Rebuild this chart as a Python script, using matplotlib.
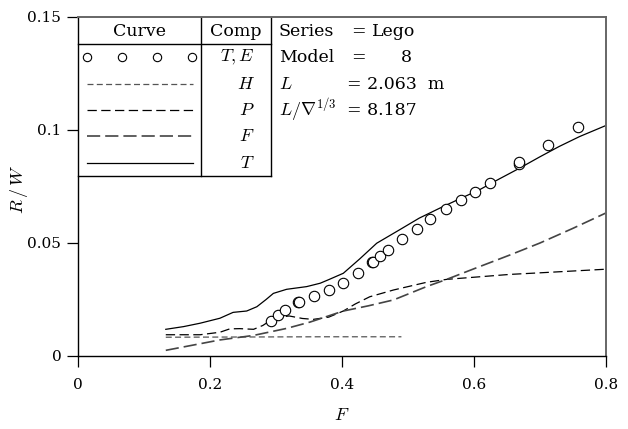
import matplotlib
matplotlib.use("Agg")
import matplotlib.pyplot as plt

plt.rcParams['font.family'] = ['DejaVu Serif']
plt.rcParams['mathtext.fontset'] = 'cm'
plt.rcParams['lines.scale_dashes'] = False

# ---------------- data ----------------
exp_F = [0.2923, 0.3026, 0.3129, 0.334, 0.335, 0.357, 0.381, 0.402, 0.4240,
         0.446, 0.447, 0.458, 0.470, 0.491, 0.513, 0.534, 0.557, 0.580,
         0.601, 0.624, 0.668, 0.668, 0.712, 0.757]
exp_RW = [0.0157, 0.0182, 0.0204, 0.0237, 0.0241, 0.0264, 0.0291, 0.0325, 0.0367,
          0.0414, 0.0418, 0.0444, 0.0469, 0.0518, 0.0564, 0.0605, 0.0650, 0.0691,
          0.0725, 0.0765, 0.0851, 0.0858, 0.0932, 0.1014]

T_F = [0.133, 0.160, 0.185, 0.215, 0.235, 0.2556, 0.271, 0.285, 0.296, 0.316,
       0.3465, 0.367, 0.380, 0.402, 0.427, 0.4526, 0.487, 0.517, 0.548, 0.578,
       0.608, 0.638, 0.669, 0.699, 0.729, 0.760, 0.800]
T_RW = [0.0118, 0.0130, 0.0145, 0.0167, 0.0193, 0.0199, 0.0218, 0.0250, 0.0277, 0.0295,
        0.0307, 0.0322, 0.0338, 0.0366, 0.0430, 0.0499, 0.0558, 0.0610, 0.0654, 0.0695,
        0.0735, 0.0783, 0.0831, 0.0880, 0.0927, 0.0971, 0.1020]

H_F = [0.133, 0.250, 0.370, 0.490]
H_RW = [0.0083, 0.0084, 0.0085, 0.0085]

P_F = [0.133, 0.185, 0.215, 0.230, 0.245, 0.266, 0.280, 0.291, 0.305, 0.320,
       0.340, 0.3565, 0.380, 0.402, 0.420, 0.442, 0.478, 0.528, 0.5586, 0.6545,
       0.700, 0.800]
P_RW = [0.0094, 0.0094, 0.0105, 0.0120, 0.0121, 0.0118, 0.0135, 0.0156, 0.0172, 0.0177,
        0.0166, 0.0162, 0.0172, 0.0199, 0.0230, 0.0262, 0.0292, 0.0326, 0.0339, 0.0361,
        0.0368, 0.0384]

Fr_F = [0.133, 0.215, 0.266, 0.316, 0.3515, 0.402, 0.440, 0.478, 0.528, 0.5586,
        0.600, 0.6545, 0.700, 0.750, 0.800]
Fr_RW = [0.0025, 0.0071, 0.0091, 0.0122, 0.0150, 0.0199, 0.0222, 0.0248, 0.0307, 0.0339,
         0.0386, 0.0447, 0.0500, 0.0565, 0.0633]

xticks = [0, 0.2, 0.4, 0.6, 0.8]
xticklabels = ['0', '0.2', '0.4', '0.6', '0.8']
yticks = [0, 0.05, 0.1, 0.15]
yticklabels = ['0', '0.05', '0.1', '0.15']

comp_labels = [r'$T,E$', r'$H$', r'$P$', r'$F$', r'$T$']
info_names = ['Series', 'Model', r'$L$', r'$L/\nabla^{1/3}$']

# ---------------- styles ----------------
sty_H = dict(color='#555555', lw=0.9, linestyle=(0, (4.3, 2.4)))
sty_P = dict(color='black', lw=0.9, linestyle=(0, (6.7, 3.2)))
sty_F = dict(color='#444444', lw=1.2, linestyle=(0, (9.5, 3.6)))
sty_T = dict(color='black', lw=0.9, linestyle='-')

fig = plt.figure(figsize=(6.28, 4.29), dpi=100)
ax = fig.add_axes([0.1242, 0.1702, 0.8408, 0.7902])

ax.plot(H_F, H_RW, **sty_H)
ax.plot(P_F, P_RW, **sty_P)
ax.plot(Fr_F, Fr_RW, **sty_F)
ax.plot(T_F, T_RW, **sty_T)
ax.plot(exp_F, exp_RW, linestyle='none', marker='o', ms=7.5, mfc='white',
        mec='black', mew=0.8)

ax.set_xlim(0, 0.8)
ax.set_ylim(0, 0.15)
ax.set_xticks(xticks)
ax.set_xticklabels(xticklabels)
ax.set_yticks(yticks)
ax.set_yticklabels(yticklabels)
ax.tick_params(axis='both', direction='out', length=8, width=0.9, labelsize=11)
ax.tick_params(axis='x', pad=8)
ax.tick_params(axis='y', pad=4)
for s in ['left', 'bottom']:
    ax.spines[s].set_linewidth(1.0)
    ax.spines[s].set_color('black')
for s in ['top', 'right']:
    ax.spines[s].set_linewidth(1.4)
    ax.spines[s].set_color('#666666')

ax.set_xlabel(r'$F$', fontsize=13, labelpad=10)
fig.text(19 / 628, 1 - 190 / 429, r'$R\,/\,W$', rotation=90, fontsize=13,
         ha='center', va='center')

# ---------------- legend table ----------------
tr = ax.transAxes
x_div, x_right = 0.233, 0.365
y_head, y_bot = 0.921, 0.5315
kw = dict(transform=tr, clip_on=False, color='black', lw=1.0)
ax.plot([x_div, x_div], [y_bot, 1.0], **kw)
ax.plot([x_right, x_right], [y_bot, 1.0], **kw)
ax.plot([0, x_right], [y_head, y_head], **kw)
ax.plot([0, x_right], [y_bot, y_bot], **kw)

fs = 12.5
ax.text(0.116, 0.958, 'Curve', transform=tr, ha='center', va='center', fontsize=fs)
ax.text(0.299, 0.958, 'Comp', transform=tr, ha='center', va='center', fontsize=fs)

row_y = [0.881, 0.802, 0.725, 0.648, 0.569]
ax.plot([0.0166, 0.0833, 0.150, 0.2166], [row_y[0]] * 4, transform=tr,
        linestyle='none', marker='o', ms=6, mfc='white', mec='black', mew=0.8)
for yy, sty in zip(row_y[1:], [sty_H, sty_P, sty_F, sty_T]):
    ax.plot([0.0166, 0.218], [yy, yy], transform=tr, **sty)
for yy, lab in zip(row_y, comp_labels):
    ax.text(0.335, yy, lab, transform=tr, ha='right', va='center', fontsize=13)

# ---------------- info text ----------------
xi = 0.3805
ax.text(xi, 0.958, info_names[0], transform=tr, ha='left', va='center', fontsize=fs)
ax.text(0.518, 0.958, '=', transform=tr, ha='left', va='center', fontsize=fs)
ax.text(0.556, 0.958, 'Lego', transform=tr, ha='left', va='center', fontsize=fs)
ax.text(xi, 0.881, info_names[1], transform=tr, ha='left', va='center', fontsize=fs)
ax.text(0.518, 0.881, '=', transform=tr, ha='left', va='center', fontsize=fs)
ax.text(0.633, 0.881, '8', transform=tr, ha='right', va='center', fontsize=fs)
ax.text(xi, 0.802, info_names[2], transform=tr, ha='left', va='center', fontsize=13)
ax.text(0.509, 0.802, '= 2.063  m', transform=tr, ha='left', va='center', fontsize=fs)
ax.text(xi, 0.725, info_names[3], transform=tr, ha='left', va='center', fontsize=13)
ax.text(0.509, 0.725, '= 8.187', transform=tr, ha='left', va='center', fontsize=fs)

fig.savefig('out.png', dpi=100)
